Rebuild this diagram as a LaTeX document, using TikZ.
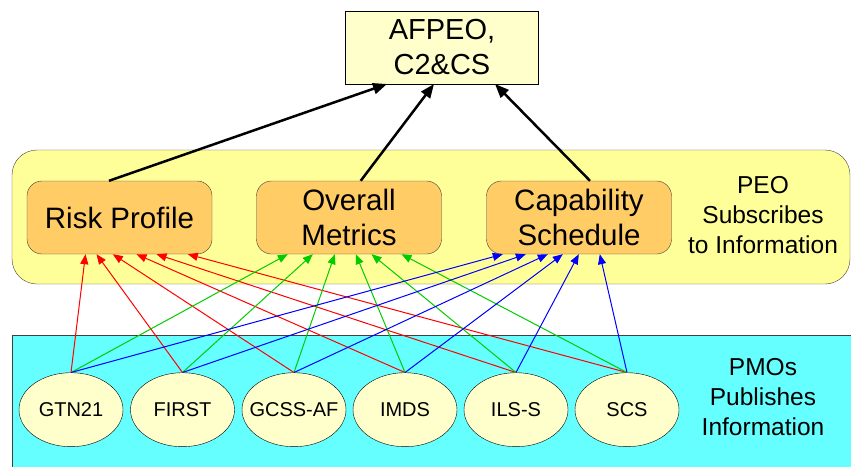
\documentclass[tikz,border=0pt]{standalone}
\usepackage{fontspec}
\setmainfont{Liberation Sans}
\usetikzlibrary{shapes.geometric,arrows.meta}
\definecolor{paleyellow}{RGB}{255,255,204}
\definecolor{bandyellow}{RGB}{255,255,153}
\definecolor{boxorange}{RGB}{255,204,102}
\definecolor{pmocyan}{RGB}{102,255,255}
\definecolor{edgegray}{RGB}{64,64,64}
\definecolor{feedred}{RGB}{255,0,0}
\definecolor{feedgreen}{RGB}{0,204,0}
\definecolor{feedblue}{RGB}{0,0,255}

\tikzset{
  infobox/.style={draw=edgegray, fill=boxorange, rounded corners=15pt, minimum width=185pt, minimum height=73pt, align=center, font=\fontsize{29.5}{35}\selectfont},
  pmo/.style={ellipse, draw=black, fill=paleyellow, minimum width=104pt, minimum height=74pt, inner xsep=-12pt, inner ysep=0pt, font=\fontsize{20}{24}\selectfont},
  note/.style={align=center, font=\fontsize{24.5}{30}\selectfont},
  feed/.style={-{Triangle[length=10pt,width=8pt]}, line width=1pt},
  report/.style={-{Triangle[length=14pt,width=11pt]}, line width=2.5pt},
}

\begin{document}
\begin{tikzpicture}[x=1pt,y=-1pt]
        \useasboundingbox (0,0) rectangle (851,466);
        % bands
        \filldraw[draw=edgegray, fill=bandyellow, rounded corners=25pt] ( 12.0,150.0) rectangle (850.0,284.0);
        \filldraw[draw=edgegray, fill=pmocyan]                          ( 12.0,335.0) rectangle (853.0,470.0);
        % boxes
        \node[draw=black, fill=paleyellow, minimum width=193pt, minimum height=73pt, align=center,
              font=\fontsize{29}{35}\selectfont] (afpeo) at (442.0, 47.3) {AFPEO,\\C2\&CS};
        \node[infobox] (risk)     at (119.5,217.5) {Risk Profile};
        \node[infobox] (metrics)  at (349.0,217.5) {Overall\\Metrics};
        \node[infobox] (schedule) at (579.0,217.5) {Capability\\Schedule};
        \node[note]    (peo)      at (763.0,215.0) {PEO\\Subscribes\\to Information};
        % programs
        \node[pmo] (gtn)   at ( 71.0,409.7) {GTN21};
        \node[pmo] (first) at (182.5,409.7) {FIRST};
        \node[pmo] (gcss)  at (294.0,409.7) {GCSS-AF};
        \node[pmo] (imds)  at (405.0,409.7) {IMDS};
        \node[pmo] (ils)   at (516.0,409.7) {ILS-S};
        \node[pmo] (scs)   at (627.0,409.7) {SCS};
        \node[note] (pmos) at (763.0,397.0) {PMOs\\Publishes\\Information};
        % reports up
        \draw[report] ([xshift=-10.5pt]risk.north)     -- ([xshift=-55pt]afpeo.south);
        \draw[report] ([xshift= 11.7pt]metrics.north)  -- ([xshift= -8pt]afpeo.south);
        \draw[report] ([xshift= 11.0pt]schedule.north) -- ([xshift= 53pt]afpeo.south);
        % risk feeds
        \draw[feed, feedred]   (gtn.north)   -- ([xshift= 58.7pt]risk.south west);
        \draw[feed, feedred]   (first.north) -- ([xshift= 69.7pt]risk.south west);
        \draw[feed, feedred]   (gcss.north)  -- ([xshift= 86.0pt]risk.south west);
        \draw[feed, feedred]   (imds.north)  -- ([xshift=109.7pt]risk.south west);
        \draw[feed, feedred]   (ils.north)   -- ([xshift=129.7pt]risk.south west);
        \draw[feed, feedred]   (scs.north)   -- ([xshift=161.0pt]risk.south west);
        % metrics feeds
        \draw[feed, feedgreen] (gtn.north)   -- ([xshift= 31.5pt]metrics.south west);
        \draw[feed, feedgreen] (first.north) -- ([xshift= 56.5pt]metrics.south west);
        \draw[feed, feedgreen] (gcss.north)  -- ([xshift= 78.5pt]metrics.south west);
        \draw[feed, feedgreen] (imds.north)  -- ([xshift= 99.5pt]metrics.south west);
        \draw[feed, feedgreen] (ils.north)   -- ([xshift=115.2pt]metrics.south west);
        \draw[feed, feedgreen] (scs.north)   -- ([xshift=145.2pt]metrics.south west);
        % schedule feeds
        \draw[feed, feedblue]  (gtn.north)   -- ([xshift= 16.5pt]schedule.south west);
        \draw[feed, feedblue]  (first.north) -- ([xshift= 39.5pt]schedule.south west);
        \draw[feed, feedblue]  (gcss.north)  -- ([xshift= 61.5pt]schedule.south west);
        \draw[feed, feedblue]  (imds.north)  -- ([xshift= 76.5pt]schedule.south west);
        \draw[feed, feedblue]  (ils.north)   -- ([xshift= 92.5pt]schedule.south west);
        \draw[feed, feedblue]  (scs.north)   -- ([xshift=113.5pt]schedule.south west);
\end{tikzpicture}
\end{document}
